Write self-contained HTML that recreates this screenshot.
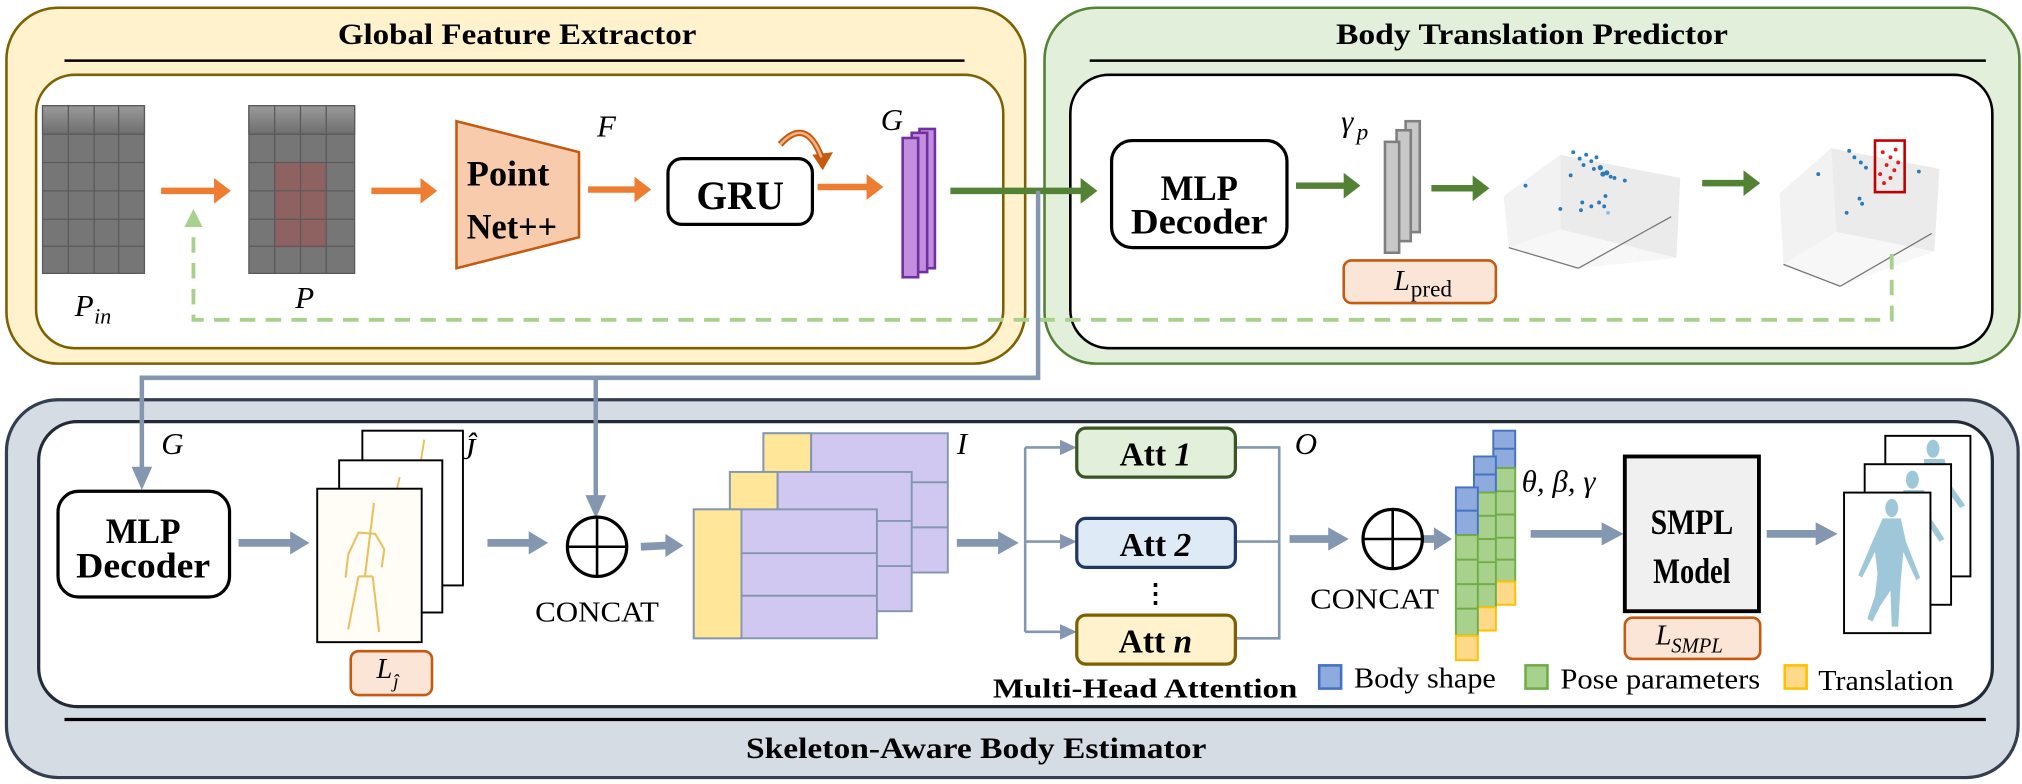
<!DOCTYPE html>
<html><head><meta charset="utf-8"><style>
html,body{margin:0;padding:0;background:#fff;}
svg{display:block;}
text{font-family:"Liberation Serif",serif;}
</style></head><body>
<svg width="2022" height="784" viewBox="0 0 1568 608" preserveAspectRatio="none" xmlns="http://www.w3.org/2000/svg">
<defs>
<marker id="ao" markerWidth="4" markerHeight="4" refX="2" refY="2" orient="auto" markerUnits="strokeWidth"><path d="M0,0 L2.6,2 L0,4 z" fill="#ed7d31"/></marker>
<marker id="ag" markerWidth="4" markerHeight="4" refX="2" refY="2" orient="auto" markerUnits="strokeWidth"><path d="M0,0 L2.6,2 L0,4 z" fill="#548235"/></marker>
<linearGradient id="gtop" x1="0" y1="0" x2="0" y2="1"><stop offset="0" stop-color="#9a9a9a"/><stop offset="1" stop-color="#6e6e6e"/></linearGradient>
</defs>

<!-- Global Feature Extractor -->
<rect x="5" y="6" width="790" height="276" rx="40" fill="#fff2cc" stroke="#7f6000" stroke-width="2"/>
<text x="401" y="34" font-size="23" font-weight="bold" text-anchor="middle" textLength="278" lengthAdjust="spacingAndGlyphs">Global Feature Extractor</text>
<line x1="50" y1="47" x2="748" y2="47" stroke="#000" stroke-width="2"/>
<rect x="28" y="58" width="750" height="212" rx="30" fill="#fff" stroke="#7f6000" stroke-width="2"/>

<!-- Body Translation Predictor -->
<rect x="810" y="6" width="756" height="276" rx="40" fill="#e2efda" stroke="#548235" stroke-width="2"/>
<text x="1188" y="34" font-size="23" font-weight="bold" text-anchor="middle" textLength="304" lengthAdjust="spacingAndGlyphs">Body Translation Predictor</text>
<line x1="845" y1="47" x2="1540" y2="47" stroke="#000" stroke-width="2"/>
<rect x="830" y="58" width="715" height="212" rx="30" fill="#fff" stroke="#000" stroke-width="2"/>

<!-- Bottom -->
<rect x="5" y="310" width="1560" height="293" rx="40" fill="#d6dce4" stroke="#333f50" stroke-width="2.5"/>
<rect x="30" y="327" width="1515" height="221" rx="30" fill="#fff" stroke="#222a35" stroke-width="2.5"/>
<line x1="50" y1="558" x2="1540" y2="558" stroke="#000" stroke-width="2.5"/>
<text x="757" y="588" font-size="23" font-weight="bold" text-anchor="middle" textLength="357" lengthAdjust="spacingAndGlyphs">Skeleton-Aware Body Estimator</text>

<!-- Pin grid -->
<g stroke="#5a5a5a" stroke-width="1">
<rect x="33" y="82" width="79" height="130" fill="#767676"/>
<rect x="33" y="82" width="79" height="22" fill="url(#gtop)"/>
<line x1="53" y1="82" x2="53" y2="212"/><line x1="73" y1="82" x2="73" y2="212"/><line x1="92" y1="82" x2="92" y2="212"/>
<line x1="33" y1="104" x2="112" y2="104"/><line x1="33" y1="126" x2="112" y2="126"/><line x1="33" y1="148" x2="112" y2="148"/><line x1="33" y1="170" x2="112" y2="170"/><line x1="33" y1="191" x2="112" y2="191"/>
</g>
<text x="58" y="245" font-size="24" font-style="italic">P</text><text x="73" y="251" font-size="17" font-style="italic">in</text>
<!-- P grid -->
<g stroke="#5a5a5a" stroke-width="1">
<rect x="193" y="82" width="82" height="130" fill="#767676"/>
<rect x="193" y="82" width="82" height="22" fill="url(#gtop)"/>
<rect x="213" y="126" width="40" height="66" fill="#8f6262" stroke="none"/>
<line x1="213" y1="82" x2="213" y2="212"/><line x1="233" y1="82" x2="233" y2="212"/><line x1="253" y1="82" x2="253" y2="212"/>
<line x1="193" y1="104" x2="275" y2="104"/><line x1="193" y1="126" x2="275" y2="126"/><line x1="193" y1="148" x2="275" y2="148"/><line x1="193" y1="170" x2="275" y2="170"/><line x1="193" y1="191" x2="275" y2="191"/>
</g>
<text x="229" y="239" font-size="24" font-style="italic">P</text>

<!-- orange arrows -->
<g stroke="#ed7d31" stroke-width="5" marker-end="url(#ao)">
<line x1="125" y1="148" x2="176" y2="148"/>
<line x1="288" y1="148" x2="336" y2="148"/>
<line x1="456" y1="147" x2="502" y2="147"/>
<line x1="634" y1="145" x2="682" y2="145"/>
</g>
<!-- PointNet -->
<polygon points="354,94 449,118 449,184 354,208" fill="#f8cbad" stroke="#c55a11" stroke-width="2"/>
<text x="362" y="144" font-size="28" font-weight="bold" textLength="64" lengthAdjust="spacingAndGlyphs">Point</text>
<text x="362" y="185" font-size="28" font-weight="bold" textLength="70" lengthAdjust="spacingAndGlyphs">Net++</text>
<text x="463" y="106" font-size="24" font-style="italic">F</text>
<!-- GRU -->
<rect x="518" y="123" width="112" height="51" rx="11" fill="#fff" stroke="#000" stroke-width="2.5"/>
<text x="574" y="162" font-size="31" font-weight="bold" text-anchor="middle" textLength="68" lengthAdjust="spacingAndGlyphs">GRU</text>
<path d="M605,112 Q625,90 637,122" fill="none" stroke="#c55a11" stroke-width="5"/>
<path d="M630,120 L646,118 L638,132 z" fill="#c55a11"/>
<path d="M605,112 Q625,90 637,122" fill="none" stroke="#f4b183" stroke-width="2"/>
<!-- G stack -->
<text x="683" y="101" font-size="24" font-style="italic">G</text>
<rect x="713" y="100" width="12" height="108" fill="#c48ee0" stroke="#7030a0" stroke-width="2"/>
<rect x="707" y="103" width="12" height="108" fill="#c48ee0" stroke="#7030a0" stroke-width="2"/>
<rect x="700" y="107" width="12" height="108" fill="#c48ee0" stroke="#7030a0" stroke-width="2"/>

<!-- green flow -->
<g stroke="#548235" stroke-width="5" marker-end="url(#ag)">
<line x1="737" y1="148" x2="848" y2="148"/>
<line x1="1005" y1="144" x2="1052" y2="144"/>
<line x1="1110" y1="146" x2="1152" y2="146"/>
<line x1="1320" y1="142" x2="1362" y2="142"/>
</g>
<rect x="862" y="109" width="136" height="83" rx="16" fill="#fff" stroke="#000" stroke-width="2.5"/>
<text x="930" y="155" font-size="28" font-weight="bold" text-anchor="middle" textLength="60" lengthAdjust="spacingAndGlyphs">MLP</text>
<text x="930" y="181" font-size="28" font-weight="bold" text-anchor="middle" textLength="106" lengthAdjust="spacingAndGlyphs">Decoder</text>
<!-- gamma stack -->
<text x="1040" y="102" font-size="24" font-style="italic">γ</text><text x="1052" y="108" font-size="18" font-style="italic">p</text>
<rect x="1090" y="94" width="11" height="86" fill="#c8c8c8" stroke="#7f7f7f" stroke-width="2"/>
<rect x="1083" y="101" width="11" height="86" fill="#c8c8c8" stroke="#7f7f7f" stroke-width="2"/>
<rect x="1074" y="110" width="11" height="86" fill="#c8c8c8" stroke="#7f7f7f" stroke-width="2"/>
<rect x="1042" y="202" width="118" height="33" rx="6" fill="#fbe5d6" stroke="#c55a11" stroke-width="2"/>
<text x="1081" y="225" font-size="22" font-style="italic">L</text><text x="1094" y="230" font-size="18">pred</text>

<!-- scatter 1 -->
<g>
<polygon points="1166,152 1210,120 1210,178 1170,192" fill="#f2f2f2"/>
<polygon points="1210,120 1303,138 1300,200 1210,178" fill="#ebebeb"/>
<polygon points="1170,192 1210,178 1300,200 1224,208" fill="#f7f7f7"/>
<line x1="1170" y1="192" x2="1224" y2="208" stroke="#777" stroke-width="1"/>
<line x1="1224" y1="208" x2="1296" y2="168" stroke="#777" stroke-width="1"/>
<g fill="#2b7bba">
<circle cx="1220" cy="118" r="1.5"/><circle cx="1225" cy="123" r="1.5"/><circle cx="1230" cy="120" r="1.5"/><circle cx="1234" cy="125" r="1.5"/><circle cx="1238" cy="122" r="1.5"/><circle cx="1241" cy="130" r="2"/><circle cx="1243" cy="135" r="2"/><circle cx="1246" cy="134" r="2"/><circle cx="1249" cy="137" r="1.5"/><circle cx="1252" cy="138" r="1.5"/><circle cx="1260" cy="140" r="1.5"/><circle cx="1228" cy="128" r="1.5"/><circle cx="1236" cy="131" r="1.5"/><circle cx="1245" cy="152" r="1.5"/><circle cx="1240" cy="157" r="1.5"/><circle cx="1234" cy="160" r="1.5"/><circle cx="1227" cy="157" r="1.5"/><circle cx="1226" cy="163" r="1.5"/><circle cx="1244" cy="160" r="1.5"/><circle cx="1210" cy="162" r="1.5"/><circle cx="1183" cy="144" r="1.5"/><circle cx="1218" cy="136" r="1.5"/><circle cx="1247" cy="165" r="1.5" fill="#8fbde0"/>
</g>
</g>
<!-- scatter 2 -->
<g>
<polygon points="1380,150 1420,115 1424,180 1383,205" fill="#f2f2f2"/>
<polygon points="1420,115 1504,131 1500,195 1424,180" fill="#ebebeb"/>
<polygon points="1383,205 1424,180 1500,195 1427,222" fill="#f7f7f7"/>
<line x1="1383" y1="205" x2="1427" y2="222" stroke="#777" stroke-width="1"/>
<line x1="1427" y1="222" x2="1498" y2="181" stroke="#777" stroke-width="1"/>
<g fill="#2b7bba"><circle cx="1434" cy="117" r="1.5"/><circle cx="1438" cy="122" r="1.5"/><circle cx="1443" cy="126" r="1.5"/><circle cx="1447" cy="130" r="1.5"/><circle cx="1410" cy="135" r="1.5"/><circle cx="1488" cy="133" r="1.5"/><circle cx="1442" cy="154" r="1.5"/><circle cx="1444" cy="158" r="1.5"/><circle cx="1432" cy="165" r="1.5"/></g>
<rect x="1454" y="109" width="23" height="40" fill="none" stroke="#c00000" stroke-width="2"/>
<g fill="#e31a1c"><circle cx="1460" cy="118" r="1.5"/><circle cx="1466" cy="122" r="1.5"/><circle cx="1463" cy="128" r="1.5"/><circle cx="1469" cy="132" r="1.5"/><circle cx="1458" cy="135" r="1.5"/><circle cx="1466" cy="138" r="1.5"/><circle cx="1472" cy="126" r="1.5"/><circle cx="1461" cy="142" r="1.5"/><circle cx="1470" cy="116" r="1.5"/></g>
</g>

<!-- green dashed feedback -->
<path d="M1467,197 L1467,248 L150,248 L150,172" fill="none" stroke="#a9d18e" stroke-width="3" stroke-dasharray="12,8"/>
<path d="M143,176 L150,162 L157,176 z" fill="#a9d18e"/>

<!-- blue connectors -->
<path d="M805,148 L805,293 L110,293 L110,365" fill="none" stroke="#8497b0" stroke-width="3.5"/>
<path d="M102,362 L110,380 L118,362 z" fill="#8497b0"/>
<line x1="462" y1="293" x2="462" y2="386" stroke="#8497b0" stroke-width="3.5"/>
<path d="M454,384 L462,402 L470,384 z" fill="#8497b0"/>

<!-- bottom MLP -->
<text x="125" y="352" font-size="24" font-style="italic">G</text>
<rect x="45" y="381" width="133" height="82" rx="16" fill="#fff" stroke="#000" stroke-width="2.5"/>
<text x="111" y="421" font-size="28" font-weight="bold" text-anchor="middle" textLength="58" lengthAdjust="spacingAndGlyphs">MLP</text>
<text x="111" y="448" font-size="28" font-weight="bold" text-anchor="middle" textLength="104" lengthAdjust="spacingAndGlyphs">Decoder</text>

<!-- thick blue arrows -->
<g stroke="#8497b0" stroke-width="6">
<line x1="185" y1="421" x2="226" y2="421"/><path d="M225,412 L240,421 L225,430 z" fill="#8497b0" stroke="none"/>
<line x1="378" y1="421" x2="412" y2="421"/><path d="M410,412 L425,421 L410,430 z" fill="#8497b0" stroke="none"/>
<line x1="497" y1="424" x2="518" y2="423"/><path d="M516,414 L530,423 L516,432 z" fill="#8497b0" stroke="none"/>
<line x1="742" y1="421" x2="776" y2="421"/><path d="M774,412 L790,421 L774,430 z" fill="#8497b0" stroke="none"/>
<line x1="1000" y1="418" x2="1032" y2="418"/><path d="M1030,409 L1046,418 L1030,427 z" fill="#8497b0" stroke="none"/>
<line x1="1100" y1="418" x2="1114" y2="418"/><path d="M1112,409 L1126,418 L1112,427 z" fill="#8497b0" stroke="none"/>
<line x1="1187" y1="414" x2="1244" y2="414"/><path d="M1242,405 L1259,414 L1242,423 z" fill="#8497b0" stroke="none"/>
<line x1="1370" y1="414" x2="1410" y2="414"/><path d="M1408,405 L1425,414 L1408,423 z" fill="#8497b0" stroke="none"/>
</g>

<!-- J hat frames -->
<rect x="281" y="334" width="78" height="120" fill="#fff" stroke="#000" stroke-width="1.5"/>
<line x1="329" y1="341" x2="322" y2="385" stroke="#e8c060" stroke-width="1.5"/>
<rect x="263" y="357" width="80" height="118" fill="#fff" stroke="#000" stroke-width="1.5"/>
<line x1="310" y1="370" x2="303" y2="400" stroke="#e8c060" stroke-width="1.5"/>
<rect x="246" y="379" width="81" height="119" fill="#fffdf5" stroke="#000" stroke-width="1.5"/>
<g stroke="#e8c060" stroke-width="1.6" fill="none">
<path d="M290,390 L283,447"/>
<path d="M270,430 L278,413 L291,414 L298,426 L296,440"/>
<path d="M270,430 L268,448"/>
<path d="M278,447 L289,447"/>
<path d="M278,447 L270,488"/>
<path d="M289,447 L294,490"/>
</g>
<text x="358" y="356" font-size="24" font-style="italic">Ĵ</text>
<rect x="272" y="505" width="63" height="34" rx="6" fill="#fbe5d6" stroke="#c55a11" stroke-width="2"/>
<text x="292" y="526" font-size="22" font-style="italic">L</text><text x="305" y="533" font-size="15" font-style="italic">ĵ</text>

<!-- concat 1 -->
<circle cx="463" cy="424" r="23" fill="#fff" stroke="#000" stroke-width="2.5"/>
<line x1="440" y1="424" x2="486" y2="424" stroke="#000" stroke-width="2"/>
<line x1="463" y1="401" x2="463" y2="447" stroke="#000" stroke-width="2"/>
<text x="463" y="482" font-size="22" text-anchor="middle" textLength="96" lengthAdjust="spacingAndGlyphs">CONCAT</text>

<!-- I stacks -->
<g stroke="#8497b0" stroke-width="1.5">
<rect x="592" y="336" width="143" height="108" fill="#d0c8f0"/><rect x="592" y="336" width="37" height="38" fill="#ffe699"/>
<line x1="629" y1="336" x2="629" y2="374"/><line x1="592" y1="374" x2="735" y2="374"/><line x1="592" y1="409" x2="735" y2="409"/>
<rect x="566" y="366" width="141" height="108" fill="#d0c8f0"/><rect x="566" y="366" width="37" height="38" fill="#ffe699"/>
<line x1="603" y1="366" x2="603" y2="404"/><line x1="566" y1="404" x2="707" y2="404"/><line x1="566" y1="439" x2="707" y2="439"/>
<rect x="538" y="395" width="142" height="100" fill="#d0c8f0"/><rect x="538" y="395" width="37" height="100" fill="#ffe699"/>
<line x1="575" y1="429" x2="680" y2="429"/><line x1="575" y1="462" x2="680" y2="462"/>
</g>
<text x="742" y="352" font-size="24" font-style="italic">I</text>

<!-- attention branching -->
<g stroke="#8497b0" stroke-width="2" fill="none">
<path d="M795,347 L795,490"/>
<path d="M795,347 L825,347"/><path d="M795,420 L825,420"/><path d="M795,490 L825,490"/>
<path d="M958,347 L992,347 L992,495 L958,495"/>
<path d="M958,420 L992,420"/>
</g>
<g fill="#8497b0"><path d="M822,341 L835,347 L822,353 z"/><path d="M822,414 L835,420 L822,426 z"/><path d="M822,484 L835,490 L822,496 z"/></g>
<rect x="835" y="332" width="123" height="38" rx="7" fill="#e2efda" stroke="#375623" stroke-width="2.5"/>
<text x="896" y="361" font-size="26" font-weight="bold" text-anchor="middle">Att <tspan font-style="italic">1</tspan></text>
<rect x="835" y="402" width="123" height="38" rx="7" fill="#deebf7" stroke="#203864" stroke-width="2.5"/>
<text x="896" y="431" font-size="26" font-weight="bold" text-anchor="middle">Att <tspan font-style="italic">2</tspan></text>
<text x="896" y="467" font-size="20" font-weight="bold" text-anchor="middle">⋮</text>
<rect x="835" y="477" width="123" height="38" rx="7" fill="#fff2cc" stroke="#7f6000" stroke-width="2.5"/>
<text x="896" y="506" font-size="26" font-weight="bold" text-anchor="middle">Att <tspan font-style="italic">n</tspan></text>
<text x="1004" y="352" font-size="24" font-style="italic">O</text>
<text x="888" y="541" font-size="21" font-weight="bold" text-anchor="middle" textLength="236" lengthAdjust="spacingAndGlyphs">Multi-Head  Attention</text>

<!-- concat 2 -->
<circle cx="1080" cy="418" r="23" fill="#fff" stroke="#000" stroke-width="2.5"/>
<line x1="1057" y1="418" x2="1103" y2="418" stroke="#000" stroke-width="2"/>
<line x1="1080" y1="395" x2="1080" y2="441" stroke="#000" stroke-width="2"/>
<text x="1066" y="472" font-size="22" text-anchor="middle" textLength="100" lengthAdjust="spacingAndGlyphs">CONCAT</text>

<!-- param columns -->
<g stroke-width="1.5">
<rect x="1158" y="334" width="17" height="29" fill="#8faadc" stroke="#4472c4"/><line x1="1158" y1="348" x2="1175" y2="348" stroke="#4472c4"/>
<rect x="1158" y="363" width="17" height="88" fill="#a9d18e" stroke="#70ad47"/>
<g stroke="#70ad47"><line x1="1158" y1="381" x2="1175" y2="381"/><line x1="1158" y1="399" x2="1175" y2="399"/><line x1="1158" y1="417" x2="1175" y2="417"/><line x1="1158" y1="434" x2="1175" y2="434"/></g>
<rect x="1158" y="451" width="17" height="18" fill="#ffd98a" stroke="#ffc000"/>
<rect x="1143" y="354" width="17" height="28" fill="#8faadc" stroke="#4472c4"/><line x1="1143" y1="368" x2="1160" y2="368" stroke="#4472c4"/>
<rect x="1143" y="382" width="17" height="89" fill="#a9d18e" stroke="#70ad47"/>
<g stroke="#70ad47"><line x1="1143" y1="400" x2="1160" y2="400"/><line x1="1143" y1="418" x2="1160" y2="418"/><line x1="1143" y1="436" x2="1160" y2="436"/><line x1="1143" y1="453" x2="1160" y2="453"/></g>
<rect x="1143" y="471" width="17" height="18" fill="#ffd98a" stroke="#ffc000"/>
<rect x="1129" y="378" width="17" height="37" fill="#8faadc" stroke="#4472c4"/><line x1="1129" y1="396" x2="1146" y2="396" stroke="#4472c4"/>
<rect x="1129" y="415" width="17" height="78" fill="#a9d18e" stroke="#70ad47"/>
<g stroke="#70ad47"><line x1="1129" y1="434" x2="1146" y2="434"/><line x1="1129" y1="453" x2="1146" y2="453"/><line x1="1129" y1="472" x2="1146" y2="472"/></g>
<rect x="1129" y="493" width="17" height="19" fill="#ffd98a" stroke="#ffc000"/>
</g>
<text x="1180" y="381" font-size="24" font-style="italic">θ, β, γ</text>

<!-- SMPL -->
<rect x="1260" y="354" width="104" height="120" fill="#f0f0f0" stroke="#000" stroke-width="3"/>
<text x="1312" y="414" font-size="28" font-weight="bold" text-anchor="middle" textLength="64" lengthAdjust="spacingAndGlyphs">SMPL</text>
<text x="1312" y="452" font-size="28" font-weight="bold" text-anchor="middle" textLength="60" lengthAdjust="spacingAndGlyphs">Model</text>
<rect x="1260" y="479" width="105" height="32" rx="6" fill="#fbe5d6" stroke="#c55a11" stroke-width="2"/>
<text x="1284" y="500" font-size="22" font-style="italic">L</text><text x="1296" y="506" font-size="16" font-style="italic">SMPL</text>

<!-- human frames -->
<g fill="#9fc7da">
<rect x="1462" y="338" width="66" height="109" fill="#fff" stroke="#000" stroke-width="1.5"/>
<ellipse cx="1499" cy="348" rx="5" ry="7"/><path d="M1492,356 L1508,356 L1512,375 L1524,392 L1520,394 L1508,378 L1506,400 L1494,400 Z"/>
<rect x="1446" y="360" width="67" height="109" fill="#fff" stroke="#000" stroke-width="1.5"/>
<ellipse cx="1483" cy="372" rx="5" ry="7"/><path d="M1476,380 L1492,380 L1496,400 L1508,418 L1504,420 L1492,402 L1490,425 L1478,425 Z"/>
<rect x="1430" y="382" width="67" height="109" fill="#fff" stroke="#000" stroke-width="1.5"/>
<ellipse cx="1467" cy="394" rx="5" ry="7"/>
<path d="M1460,402 L1474,402 L1478,420 L1489,448 L1486,450 L1476,428 L1474,450 L1472,486 L1467,486 L1466,458 L1458,470 L1452,482 L1448,480 L1454,462 L1456,445 L1454,428 L1444,448 L1441,446 L1452,420 Z"/>
</g>

<!-- legend -->
<rect x="1023" y="516" width="17" height="18" fill="#8faadc" stroke="#4472c4" stroke-width="2"/>
<text x="1050" y="533" font-size="22" textLength="110" lengthAdjust="spacingAndGlyphs">Body shape</text>
<rect x="1183" y="516" width="17" height="18" fill="#a9d18e" stroke="#70ad47" stroke-width="2"/>
<text x="1210" y="534" font-size="22" textLength="155" lengthAdjust="spacingAndGlyphs">Pose parameters</text>
<rect x="1384" y="516" width="17" height="18" fill="#ffd98a" stroke="#ffc000" stroke-width="2"/>
<text x="1410" y="535" font-size="22" textLength="105" lengthAdjust="spacingAndGlyphs">Translation</text>
</svg>
</body></html>
